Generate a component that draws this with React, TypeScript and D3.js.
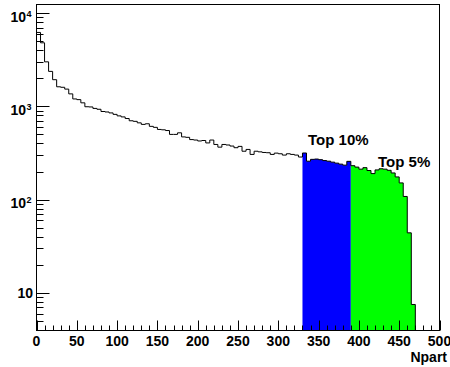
import React from 'react';
import * as d3 from 'd3';

// Npart distribution, 5-unit bins starting at 0
const binWidth = 5;
const counts = [
  6200, 4800, 3000, 2370, 1930, 1620, 1600, 1530, 1360, 1200,
  1180, 1090, 990, 985, 950, 930, 880, 870, 850, 820,
  790, 770, 740, 700, 690, 665, 640, 650, 610, 595,
  565, 560, 550, 500, 500, 520, 470, 465, 440, 435,
  425, 430, 405, 435, 390, 365, 390, 385, 375, 360,
  372, 330, 345, 305, 330, 325, 320, 318, 305, 315,
  310, 300, 310, 305, 300, 286, 316, 258, 270, 272,
  268, 262, 258, 252, 246, 240, 234, 257, 231, 223,
  212, 220, 205, 190, 208, 214, 212, 206, 193, 175,
  151, 108, 44, 7.5,
];

// Centrality selections
const top10Range: [number, number] = [330, 390];
const top5Range: [number, number] = [390, 470];
const top10Label = 'Top 10%';
const top5Label = 'Top 5%';

const xDomain: [number, number] = [0, 500];
const yDomain: [number, number] = [3.945, 12360];
const xMajorStep = 50;
const xMinorStep = 10;
const yDecadeExps = [1, 2, 3, 4];
const xTitle = 'Npart';

const W = 450;
const H = 367;
const left = 36.5;
const right = 439.5;
const top = 4.5;
const bottom = 330.5;

const FONT = "'Liberation Sans', Arial, Helvetica, sans-serif";

export default function App() {
  const x = d3.scaleLinear().domain(xDomain).range([left, right]);
  const y = d3.scaleLog().domain(yDomain).range([bottom, top]);

  const stepPath = (lo: number, hi: number) => {
    let d = `M${x(lo)},${bottom}`;
    counts.forEach((c, i) => {
      const a = i * binWidth;
      const b = a + binWidth;
      if (a < lo || b > hi) return;
      d += `V${y(c)}H${x(b)}`;
    });
    d += `V${bottom}`;
    return d;
  };

  const fullPath = stepPath(0, counts.length * binWidth);
  const top10Path = stepPath(top10Range[0], top10Range[1]) + 'Z';
  const top5Path = stepPath(top5Range[0], top5Range[1]) + 'Z';

  const xMinor = d3.range(xDomain[0], xDomain[1] + 0.001, xMinorStep);
  const xMajor = d3.range(xDomain[0], xDomain[1] + 0.001, xMajorStep);

  const yTicks: { v: number; major: boolean }[] = [];
  for (let e = 0; e <= 4; e++) {
    for (let m = 1; m <= 9; m++) {
      const v = m * Math.pow(10, e);
      if (v >= yDomain[0] && v <= yDomain[1]) yTicks.push({ v, major: m === 1 });
    }
  }

  return (
    <svg
      width={W}
      height={H}
      style={{ position: 'absolute', left: 0, top: 0, background: '#fff' }}
      fontFamily={FONT}
      fontWeight="bold"
    >
      <rect x={0} y={0} width={W} height={H} fill="#fff" />
      <path d={top10Path} fill="#0000ff" stroke="none" />
      <path d={top5Path} fill="#00ff00" stroke="none" />
      <path d={fullPath} fill="none" stroke="#000" strokeWidth={1} />

      {/* frame */}
      <rect x={left} y={top} width={right - left} height={bottom - top} fill="none" stroke="#000" strokeWidth={1} />

      {/* x ticks */}
      {xMinor.map((v) => {
        const major = v % xMajorStep === 0;
        const xx = Math.round(x(v)) + 0.5;
        return <line key={`xt${v}`} x1={xx} x2={xx} y1={bottom} y2={bottom - (major ? 10 : 5)} stroke="#000" strokeWidth={1} />;
      })}
      {xMajor.map((v) => (
        <text key={`xl${v}`} x={x(v)} y={346} fontSize={14} textAnchor="middle" fill="#000">
          {v}
        </text>
      ))}
      <text x={447} y={362} fontSize={14} textAnchor="end" fill="#000">
        {xTitle}
      </text>

      {/* y ticks */}
      {yTicks.map(({ v, major }) => {
        const yy = Math.round(y(v)) + 0.5;
        return <line key={`yt${v}`} x1={left} x2={left + (major ? 13 : 7)} y1={yy} y2={yy} stroke="#000" strokeWidth={1} />;
      })}
      {yDecadeExps.map((e) => {
        const yy = y(Math.pow(10, e));
        if (e === 1) {
          return (
            <text key={`yl${e}`} x={33} y={yy + 5.5} fontSize={14} textAnchor="end" fill="#000">
              10
            </text>
          );
        }
        return (
          <g key={`yl${e}`}>
            <text x={26} y={yy + 8.5} fontSize={14} textAnchor="end" fill="#000">
              10
            </text>
            <text x={26.5} y={yy + 3.5} fontSize={9} textAnchor="start" fill="#000">
              {e}
            </text>
          </g>
        );
      })}

      {/* selection labels */}
      <text x={308} y={145} fontSize={15} fill="#000">
        {top10Label}
      </text>
      <text x={378} y={166.5} fontSize={15} fill="#000">
        {top5Label}
      </text>
    </svg>
  );
}
